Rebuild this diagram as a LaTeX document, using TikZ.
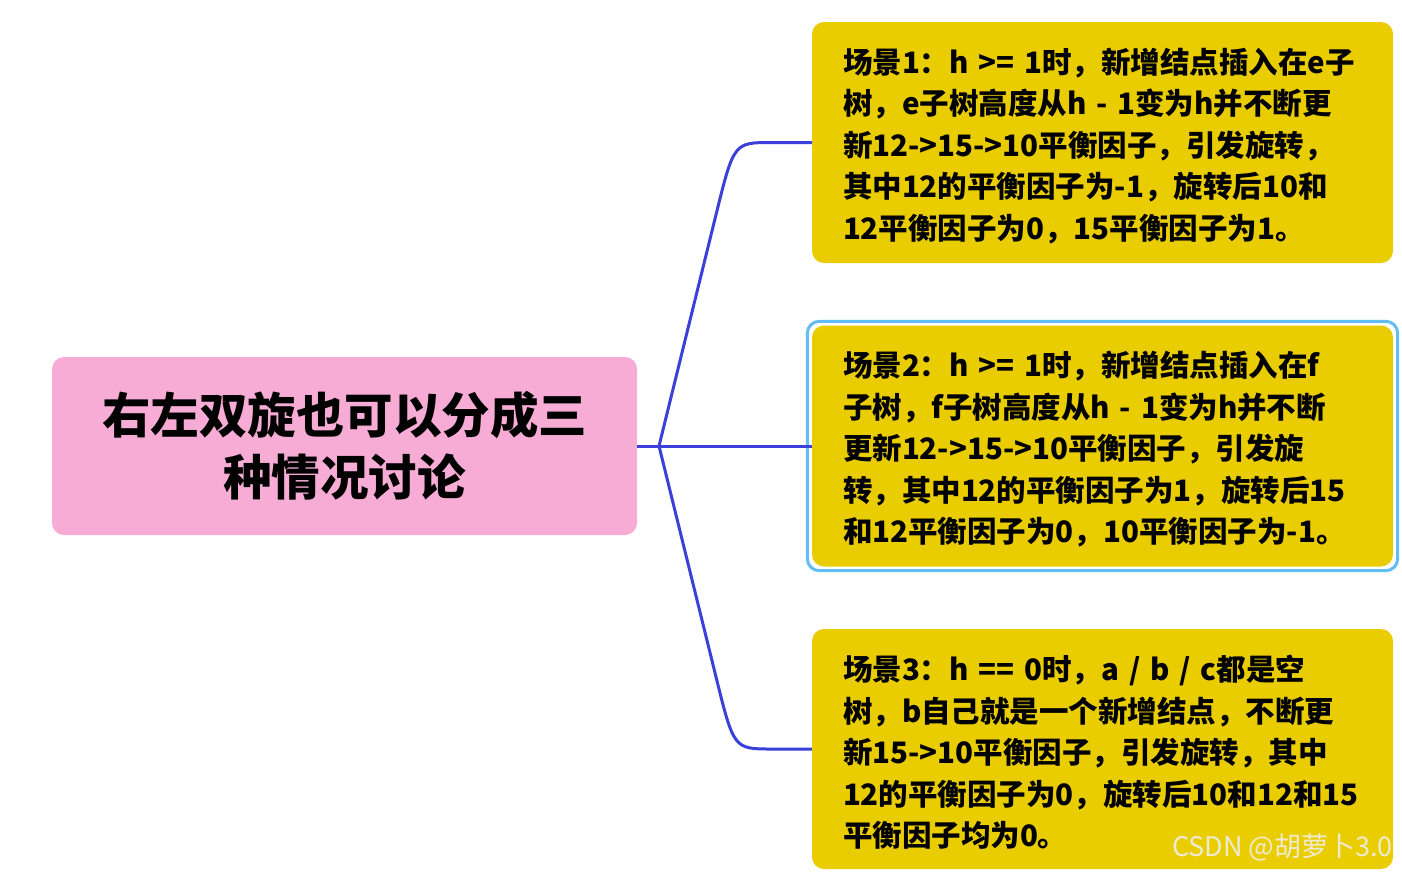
\documentclass[tikz,border=0pt]{standalone}
\usepackage{fontspec}
\usetikzlibrary{calc}
\newfontfamily\cjk{Noto Sans CJK SC}
\definecolor{rootpink}{HTML}{F7ACD6}
\definecolor{caseyellow}{HTML}{EACD00}
\definecolor{linkblue}{HTML}{3A40D8}
\definecolor{selblue}{HTML}{62BCF6}
\definecolor{markgray}{HTML}{EFEBD2}
\begin{document}
\begin{tikzpicture}[x=1pt, y=-1pt,
    rootbox/.style={fill=rootpink, rounded corners=12pt, minimum width=585pt,
        minimum height=178pt, align=center,
        font=\cjk\bfseries\fontsize{48.5}{62}\selectfont},
    casebox/.style={fill=caseyellow, rounded corners=12pt, inner xsep=31pt,
        text width=519pt, minimum height=241pt, align=left,
        font=\cjk\bfseries\fontsize{29.5}{41.5}\selectfont,
        execute at begin node={\rule{0pt}{32pt}}},
    link/.style={draw=linkblue, line width=3pt}]
    % Canvas
    \useasboundingbox (0,0) rectangle (1402,873);
    % Root
    \node[rootbox] (root) at (344.5,446) {右左双旋也可以分成三\\种情况讨论};
    % Cases
    \node[casebox] (case1) at (1102.5,142.5) {场景1：h >= 1时，新增结点插入在e子\\
        树，e子树高度从h - 1变为h并不断更\\
        新12->15->10平衡因子，引发旋转，\\
        其中12的平衡因子为-1，旋转后10和\\
        12平衡因子为0，15平衡因子为1。};
    \node[casebox] (case2) at (1102.5,446) {场景2：h >= 1时，新增结点插入在f\\
        子树，f子树高度从h - 1变为h并不断\\
        更新12->15->10平衡因子，引发旋\\
        转，其中12的平衡因子为1，旋转后15\\
        和12平衡因子为0，10平衡因子为-1。};
    \node[casebox, minimum height=240pt] (case3) at (1102.5,749) {场景3：h == 0时，a / b / c都是空\\
        树，b自己就是一个新增结点，不断更\\
        新15->10平衡因子，引发旋转，其中\\
        12的平衡因子为0，旋转后10和12和15\\
        平衡因子均为0。};
    % Selection frame
    \draw[selblue, line width=3pt, rounded corners=12pt]
        ([shift={(-4.5,-4)}]case2.north west) rectangle ([shift={(4.5,4)}]case2.south east);
    % Links
    \coordinate (fork) at (659,446);
    \coordinate (bend1) at ([xshift=-78pt]case1.west);
    \coordinate (bend3) at ([xshift=-78pt]case3.west);
    \draw[link] (root.east) -- (fork) -- (case2.west);
    \draw[link] (fork) -- ($(fork)!0.76!(bend1)$) .. controls (bend1) .. ([xshift=38pt]bend1) -- (case1.west);
    \draw[link] (fork) -- ($(fork)!0.76!(bend3)$) .. controls (bend3) .. ([xshift=38pt]bend3) -- (case3.west);
    % Watermark
    \node[anchor=west, text=markgray, font=\cjk\fontsize{27}{30}\selectfont, inner sep=0pt]
        (mark) at (1172,847) {CSDN @胡萝卜3.0};
\end{tikzpicture}
\end{document}
